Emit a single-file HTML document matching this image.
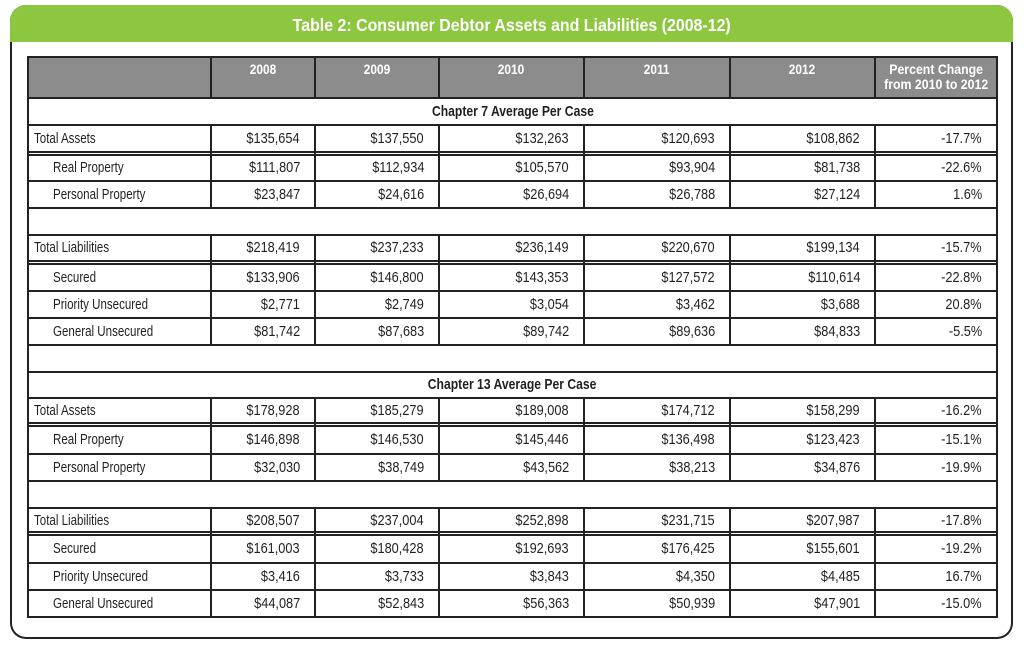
<!DOCTYPE html>
<html><head><meta charset="utf-8">
<style>
html,body{margin:0;padding:0;background:#fff;}
body{width:1024px;height:649px;position:relative;overflow:hidden;font-family:"Liberation Sans",Arial,sans-serif;color:#231f20;}
.frame{position:absolute;left:10px;top:5px;width:1003px;height:634px;background:#222;border-radius:16px;overflow:hidden;}
.green{position:absolute;left:0;top:0;width:1003px;height:37px;background:#8dc63f;}
.inner{position:absolute;left:2px;top:37px;width:999px;height:595px;background:#fff;border-radius:0 0 14px 14px;}
.title{position:absolute;left:10px;top:7px;width:1003px;height:37px;line-height:37px;text-align:center;color:#fff;font-weight:bold;font-size:17.5px;white-space:nowrap;}
.title span{display:inline-block;transform:scaleX(.91);transform-origin:center;}
.hdrbg{position:absolute;left:27px;top:56px;width:971px;height:43px;background:#8c8c8c;}
.h{position:absolute;left:27px;width:971px;height:2px;background:#222;}
.v{position:absolute;width:2px;background:#222;}
.hd{position:absolute;top:62px;line-height:15px;text-align:center;color:#fff;font-weight:bold;font-size:13.5px;white-space:nowrap;}
.hd span{display:inline-block;transform:scaleX(.88);transform-origin:center;}
.row{position:absolute;left:0;width:1024px;font-size:15px;white-space:nowrap;}
.row div{position:absolute;top:0;}
.lb{left:34px;}
.lb.in{left:53px;}
.lb span{display:inline-block;transform:scaleX(.77);transform-origin:left center;}
.n span{display:inline-block;transform:scaleX(.85);transform-origin:right center;}
.n{text-align:right;}
.c1{right:724px}.c2{right:600px}.c3{right:455px}.c4{right:309px}.c5{right:164px}.c6{right:42px}
.ch{left:27px;width:971px;text-align:center;font-weight:bold;}
.ch span{display:inline-block;transform:scaleX(.81);transform-origin:center;}
</style></head><body>
<div class="frame"><div class="green"></div><div class="inner"></div></div>
<div class="title"><span>Table 2: Consumer Debtor Assets and Liabilities (2008-12)</span></div>

<div class="hdrbg"></div>

<div class="h" style="top:56px"></div>
<div class="h" style="top:97px"></div>
<div class="h" style="top:124px"></div>
<div class="h" style="top:151px"></div><div class="h" style="top:154px"></div>
<div class="h" style="top:180px"></div>
<div class="h" style="top:207px"></div>
<div class="h" style="top:234px"></div>
<div class="h" style="top:260px"></div><div class="h" style="top:263px"></div>
<div class="h" style="top:290px"></div>
<div class="h" style="top:317px"></div>
<div class="h" style="top:344px"></div>
<div class="h" style="top:371px"></div>
<div class="h" style="top:397px"></div>
<div class="h" style="top:422px"></div><div class="h" style="top:425px"></div>
<div class="h" style="top:453px"></div>
<div class="h" style="top:480px"></div>
<div class="h" style="top:507px"></div>
<div class="h" style="top:531px"></div><div class="h" style="top:534px"></div>
<div class="h" style="top:562px"></div>
<div class="h" style="top:589px"></div>
<div class="h" style="top:616px"></div>

<div class="v" style="left:27px;top:56px;height:562px"></div>
<div class="v" style="left:996px;top:56px;height:562px"></div>

<div class="v" style="left:210px;top:56px;height:43px"></div>
<div class="v" style="left:314px;top:56px;height:43px"></div>
<div class="v" style="left:438px;top:56px;height:43px"></div>
<div class="v" style="left:583px;top:56px;height:43px"></div>
<div class="v" style="left:729px;top:56px;height:43px"></div>
<div class="v" style="left:874px;top:56px;height:43px"></div>

<div class="v" style="left:210px;top:124px;height:85px"></div>
<div class="v" style="left:314px;top:124px;height:85px"></div>
<div class="v" style="left:438px;top:124px;height:85px"></div>
<div class="v" style="left:583px;top:124px;height:85px"></div>
<div class="v" style="left:729px;top:124px;height:85px"></div>
<div class="v" style="left:874px;top:124px;height:85px"></div>

<div class="v" style="left:210px;top:234px;height:112px"></div>
<div class="v" style="left:314px;top:234px;height:112px"></div>
<div class="v" style="left:438px;top:234px;height:112px"></div>
<div class="v" style="left:583px;top:234px;height:112px"></div>
<div class="v" style="left:729px;top:234px;height:112px"></div>
<div class="v" style="left:874px;top:234px;height:112px"></div>

<div class="v" style="left:210px;top:397px;height:85px"></div>
<div class="v" style="left:314px;top:397px;height:85px"></div>
<div class="v" style="left:438px;top:397px;height:85px"></div>
<div class="v" style="left:583px;top:397px;height:85px"></div>
<div class="v" style="left:729px;top:397px;height:85px"></div>
<div class="v" style="left:874px;top:397px;height:85px"></div>

<div class="v" style="left:210px;top:507px;height:111px"></div>
<div class="v" style="left:314px;top:507px;height:111px"></div>
<div class="v" style="left:438px;top:507px;height:111px"></div>
<div class="v" style="left:583px;top:507px;height:111px"></div>
<div class="v" style="left:729px;top:507px;height:111px"></div>
<div class="v" style="left:874px;top:507px;height:111px"></div>

<div class="hd" style="left:212px;width:102px"><span>2008</span></div>
<div class="hd" style="left:316px;width:122px"><span>2009</span></div>
<div class="hd" style="left:440px;width:143px"><span>2010</span></div>
<div class="hd" style="left:585px;width:144px"><span>2011</span></div>
<div class="hd" style="left:731px;width:143px"><span>2012</span></div>
<div class="hd" style="left:876px;width:120px;font-size:14px"><span>Percent Change<br>from 2010 to 2012</span></div>

<div class="row" style="top:99px;height:25px;line-height:25px"><div class="ch"><span>Chapter 7 Average Per Case</span></div></div>

<div class="row" style="top:126px;height:25px;line-height:25px">
<div class="lb"><span>Total Assets</span></div>
<div class="n c1"><span>$135,654</span></div><div class="n c2"><span>$137,550</span></div><div class="n c3"><span>$132,263</span></div><div class="n c4"><span>$120,693</span></div><div class="n c5"><span>$108,862</span></div><div class="n c6"><span>-17.7%</span></div>
</div>
<div class="row" style="top:156px;height:24px;line-height:24px">
<div class="lb in"><span>Real Property</span></div>
<div class="n c1"><span>$111,807</span></div><div class="n c2"><span>$112,934</span></div><div class="n c3"><span>$105,570</span></div><div class="n c4"><span>$93,904</span></div><div class="n c5"><span>$81,738</span></div><div class="n c6"><span>-22.6%</span></div>
</div>
<div class="row" style="top:182px;height:25px;line-height:25px">
<div class="lb in"><span>Personal Property</span></div>
<div class="n c1"><span>$23,847</span></div><div class="n c2"><span>$24,616</span></div><div class="n c3"><span>$26,694</span></div><div class="n c4"><span>$26,788</span></div><div class="n c5"><span>$27,124</span></div><div class="n c6"><span>1.6%</span></div>
</div>

<div class="row" style="top:236px;height:24px;line-height:24px">
<div class="lb"><span>Total Liabilities</span></div>
<div class="n c1"><span>$218,419</span></div><div class="n c2"><span>$237,233</span></div><div class="n c3"><span>$236,149</span></div><div class="n c4"><span>$220,670</span></div><div class="n c5"><span>$199,134</span></div><div class="n c6"><span>-15.7%</span></div>
</div>
<div class="row" style="top:265px;height:25px;line-height:25px">
<div class="lb in"><span>Secured</span></div>
<div class="n c1"><span>$133,906</span></div><div class="n c2"><span>$146,800</span></div><div class="n c3"><span>$143,353</span></div><div class="n c4"><span>$127,572</span></div><div class="n c5"><span>$110,614</span></div><div class="n c6"><span>-22.8%</span></div>
</div>
<div class="row" style="top:292px;height:25px;line-height:25px">
<div class="lb in"><span>Priority Unsecured</span></div>
<div class="n c1"><span>$2,771</span></div><div class="n c2"><span>$2,749</span></div><div class="n c3"><span>$3,054</span></div><div class="n c4"><span>$3,462</span></div><div class="n c5"><span>$3,688</span></div><div class="n c6"><span>20.8%</span></div>
</div>
<div class="row" style="top:319px;height:25px;line-height:25px">
<div class="lb in"><span>General Unsecured</span></div>
<div class="n c1"><span>$81,742</span></div><div class="n c2"><span>$87,683</span></div><div class="n c3"><span>$89,742</span></div><div class="n c4"><span>$89,636</span></div><div class="n c5"><span>$84,833</span></div><div class="n c6"><span>-5.5%</span></div>
</div>

<div class="row" style="top:373px;height:24px;line-height:24px"><div class="ch"><span>Chapter 13 Average Per Case</span></div></div>

<div class="row" style="top:399px;height:23px;line-height:23px">
<div class="lb"><span>Total Assets</span></div>
<div class="n c1"><span>$178,928</span></div><div class="n c2"><span>$185,279</span></div><div class="n c3"><span>$189,008</span></div><div class="n c4"><span>$174,712</span></div><div class="n c5"><span>$158,299</span></div><div class="n c6"><span>-16.2%</span></div>
</div>
<div class="row" style="top:427px;height:26px;line-height:26px">
<div class="lb in"><span>Real Property</span></div>
<div class="n c1"><span>$146,898</span></div><div class="n c2"><span>$146,530</span></div><div class="n c3"><span>$145,446</span></div><div class="n c4"><span>$136,498</span></div><div class="n c5"><span>$123,423</span></div><div class="n c6"><span>-15.1%</span></div>
</div>
<div class="row" style="top:455px;height:25px;line-height:25px">
<div class="lb in"><span>Personal Property</span></div>
<div class="n c1"><span>$32,030</span></div><div class="n c2"><span>$38,749</span></div><div class="n c3"><span>$43,562</span></div><div class="n c4"><span>$38,213</span></div><div class="n c5"><span>$34,876</span></div><div class="n c6"><span>-19.9%</span></div>
</div>

<div class="row" style="top:509px;height:22px;line-height:24px">
<div class="lb"><span>Total Liabilities</span></div>
<div class="n c1"><span>$208,507</span></div><div class="n c2"><span>$237,004</span></div><div class="n c3"><span>$252,898</span></div><div class="n c4"><span>$231,715</span></div><div class="n c5"><span>$207,987</span></div><div class="n c6"><span>-17.8%</span></div>
</div>
<div class="row" style="top:536px;height:26px;line-height:26px">
<div class="lb in"><span>Secured</span></div>
<div class="n c1"><span>$161,003</span></div><div class="n c2"><span>$180,428</span></div><div class="n c3"><span>$192,693</span></div><div class="n c4"><span>$176,425</span></div><div class="n c5"><span>$155,601</span></div><div class="n c6"><span>-19.2%</span></div>
</div>
<div class="row" style="top:564px;height:25px;line-height:25px">
<div class="lb in"><span>Priority Unsecured</span></div>
<div class="n c1"><span>$3,416</span></div><div class="n c2"><span>$3,733</span></div><div class="n c3"><span>$3,843</span></div><div class="n c4"><span>$4,350</span></div><div class="n c5"><span>$4,485</span></div><div class="n c6"><span>16.7%</span></div>
</div>
<div class="row" style="top:591px;height:25px;line-height:25px">
<div class="lb in"><span>General Unsecured</span></div>
<div class="n c1"><span>$44,087</span></div><div class="n c2"><span>$52,843</span></div><div class="n c3"><span>$56,363</span></div><div class="n c4"><span>$50,939</span></div><div class="n c5"><span>$47,901</span></div><div class="n c6"><span>-15.0%</span></div>
</div>
</body></html>
